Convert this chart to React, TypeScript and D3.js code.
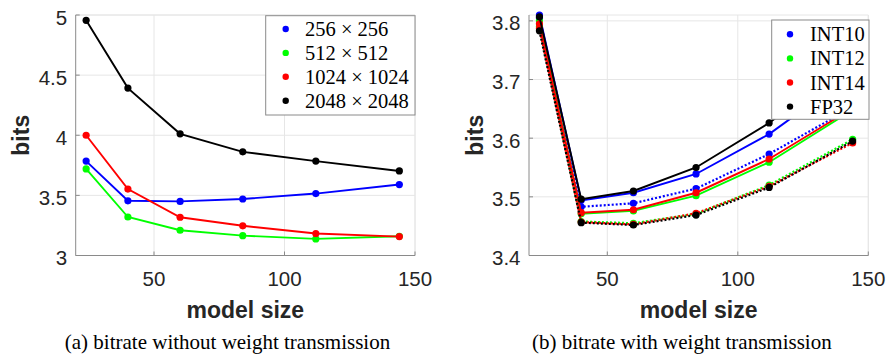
import React from "react";
import * as d3 from "d3";

// x positions shared by both panels
const modelSize = [24, 40, 60, 84, 112, 144];
const xTicks = [50, 100, 150];

// (a) bitrate without weight transmission
const res256 = [3.785, 3.455, 3.45, 3.47, 3.515, 3.59];
const res512 = [3.72, 3.32, 3.21, 3.165, 3.138, 3.16];
const res1024 = [4.0, 3.552, 3.318, 3.247, 3.183, 3.157];
const res2048 = [4.956, 4.392, 4.012, 3.862, 3.785, 3.703];
const leftNames = ["256 × 256", "512 × 512", "1024 × 1024", "2048 × 2048"];
const leftTicks = [3, 3.5, 4, 4.5, 5];

// (b) bitrate with weight transmission
const int10Solid = [3.81, 3.494, 3.507, 3.539, 3.607, 3.71];
const int10Dotted = [3.805, 3.483, 3.489, 3.514, 3.573, 3.653];
const int12Solid = [3.8, 3.471, 3.476, 3.502, 3.559, 3.648];
const int12Dotted = [3.79, 3.458, 3.455, 3.471, 3.52, 3.598];
const int14Solid = [3.795, 3.473, 3.478, 3.507, 3.5645, 3.651];
const int14Dotted = [3.787, 3.457, 3.453, 3.472, 3.518, 3.592];
const fp32Solid = [3.807, 3.496, 3.51, 3.55, 3.626, 3.735];
const fp32Dotted = [3.783, 3.456, 3.452, 3.469, 3.516, 3.595];
const rightNames = ["INT10", "INT12", "INT14", "FP32"];
const rightTicks = [3.4, 3.5, 3.6, 3.7, 3.8];

const colors = ["#0000ff", "#00ff00", "#ff0000", "#000000"];

type Series = { values: number[]; color: string; dotted?: boolean };

const SANS = "'Liberation Sans', Arial, sans-serif";
const SERIF = "'Liberation Serif', 'Times New Roman', serif";

function Panel(props: {
  x0: number;
  x1: number;
  yDomain: [number, number];
  yTicks: number[];
  series: Series[];
  legend: { names: string[]; box: [number, number, number, number]; dotX: number; textX: number; row0: number; step: number };
  labelX: number;
  caption: string;
  captionX: number;
}) {
  const top = 15;
  const bottom = 255.5;
  const x = d3.scaleLinear().domain([20, 150]).range([props.x0, props.x1]);
  const y = d3.scaleLinear().domain(props.yDomain).range([bottom, top]);
  const line = d3
    .line<number>()
    .x((_, i) => x(modelSize[i]))
    .y((d) => y(d));
  const mid = (props.x0 + props.x1) / 2;
  const lg = props.legend;

  return (
    <g>
      {/* grid */}
      {xTicks.map((t) => (
        <line key={"gx" + t} x1={x(t)} x2={x(t)} y1={top} y2={bottom} stroke="#e6e6e6" />
      ))}
      {props.yTicks.map((t) => (
        <line key={"gy" + t} x1={props.x0} x2={props.x1} y1={y(t)} y2={y(t)} stroke="#e6e6e6" />
      ))}
      <line x1={props.x0} x2={props.x1} y1={top} y2={top} stroke="#e6e6e6" />
      <line x1={props.x1} x2={props.x1} y1={top} y2={bottom} stroke="#e6e6e6" />

      {/* axes */}
      <line x1={props.x0} x2={props.x1} y1={bottom} y2={bottom} stroke="#8a8a8a" />
      <line x1={props.x0} x2={props.x0} y1={top} y2={bottom} stroke="#8a8a8a" />
      {xTicks.map((t) => (
        <g key={"tx" + t}>
          <line x1={x(t)} x2={x(t)} y1={bottom} y2={bottom - 4} stroke="#8a8a8a" />
          <text x={x(t)} y={286} textAnchor="middle" style={{ fontFamily: SANS, fontSize: 20.5 }} fill="#262626">
            {t}
          </text>
        </g>
      ))}
      {props.yTicks.map((t) => (
        <g key={"ty" + t}>
          <line x1={props.x0} x2={props.x0 + 4} y1={y(t)} y2={y(t)} stroke="#8a8a8a" />
          <text
            x={props.x0 - 8.5}
            y={y(t) + 2}
            textAnchor="end"
            dominantBaseline="central"
            style={{ fontFamily: SANS, fontSize: 20.5 }}
            fill="#262626"
          >
            {t}
          </text>
        </g>
      ))}

      {/* labels */}
      <text
        x={mid}
        y={318}
        textAnchor="middle"
        style={{ fontFamily: SANS, fontSize: 23, fontWeight: "bold" }}
        fill="#262626"
      >
        model size
      </text>
      <text
        transform={`translate(${props.labelX},${(top + bottom) / 2}) rotate(-90)`}
        textAnchor="middle"
        dominantBaseline="central"
        style={{ fontFamily: SANS, fontSize: 23, fontWeight: "bold" }}
        fill="#262626"
      >
        bits
      </text>
      <text x={props.captionX} y={349} textAnchor="middle" style={{ fontFamily: SERIF, fontSize: 21 }} fill="#000">
        {props.caption}
      </text>

      {/* series */}
      {props.series.map((s, k) => (
        <g key={"s" + k}>
          <path
            d={line(s.values) || ""}
            fill="none"
            stroke={s.color}
            strokeWidth={s.dotted ? 2.2 : 1.9}
            strokeDasharray={s.dotted ? "2 2" : undefined}
          />
          {s.values.map((v, i) => (
            <circle key={i} cx={x(modelSize[i])} cy={y(v)} r={3.6} fill={s.color} />
          ))}
        </g>
      ))}

      {/* legend */}
      <rect
        x={lg.box[0]}
        y={lg.box[1]}
        width={lg.box[2] - lg.box[0]}
        height={lg.box[3] - lg.box[1]}
        fill="#fff"
        stroke="#8a8a8a"
      />
      {lg.names.map((n, i) => (
        <g key={n}>
          <circle cx={lg.dotX} cy={lg.row0 + i * lg.step} r={3.2} fill={colors[i]} />
          <text
            x={lg.textX}
            y={lg.row0 + i * lg.step}
            dominantBaseline="central"
            style={{ fontFamily: SERIF, fontSize: 20.5 }}
            fill="#000"
          >
            {n}
          </text>
        </g>
      ))}
    </g>
  );
}

export default function App() {
  const leftSeries: Series[] = [res256, res512, res1024, res2048].map((v, i) => ({
    values: v,
    color: colors[i],
  }));
  const rightSeries: Series[] = [
    { values: int10Solid, color: colors[0] },
    { values: int10Dotted, color: colors[0], dotted: true },
    { values: int12Solid, color: colors[1] },
    { values: int12Dotted, color: colors[1], dotted: true },
    { values: int14Solid, color: colors[2] },
    { values: int14Dotted, color: colors[2], dotted: true },
    { values: fp32Solid, color: colors[3] },
    { values: fp32Dotted, color: colors[3], dotted: true },
  ];

  return (
    <svg
      width={889}
      height={362}
      style={{ position: "absolute", left: 0, top: 0, background: "#fff" }}
    >
      <rect width={889} height={362} fill="#fff" />
      <Panel
        x0={75.7}
        x1={415}
        yDomain={[3, 5]}
        yTicks={leftTicks}
        series={leftSeries}
        legend={{ names: leftNames, box: [265.7, 15.7, 415, 115], dotX: 285.7, textX: 305, row0: 29, step: 23.9 }}
        labelX={21}
        caption="(a) bitrate without weight transmission"
        captionX={227.5}
      />
      <Panel
        x0={529}
        x1={868.3}
        yDomain={[3.4, 3.81]}
        yTicks={rightTicks}
        series={rightSeries}
        legend={{ names: rightNames, box: [771.7, 20, 869, 119.3], dotX: 790, textX: 810, row0: 34.3, step: 24.1 }}
        labelX={474.5}
        caption="(b) bitrate with weight transmission"
        captionX={681.8}
      />
    </svg>
  );
}
